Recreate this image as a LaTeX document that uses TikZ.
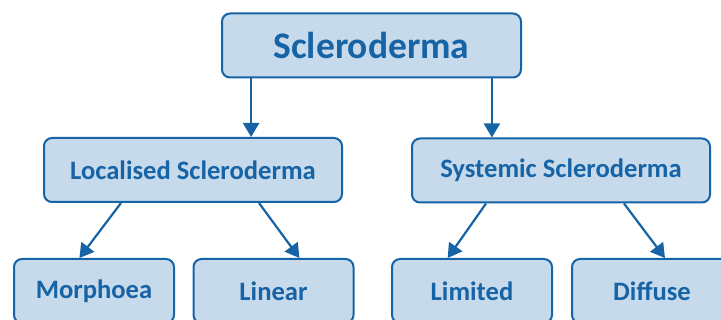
\documentclass[tikz,border=0pt]{standalone}
\usepackage{fontspec}
\setmainfont{Carlito}
\usepackage{tikz}
\usetikzlibrary{arrows.meta,calc}

\definecolor{boxfill}{RGB}{198,218,236}
\definecolor{boxline}{RGB}{22,99,165}

\tikzset{
  box/.style={draw=boxline, fill=boxfill, line width=2pt, rounded corners=8pt,
    text=boxline, font=\bfseries\fontsize{26.6}{30}\selectfont,
    inner sep=0pt, minimum height=64pt},
  arr/.style={draw=boxline, line width=2.2pt, -{Triangle[length=14pt,width=16pt]}}
}

\begin{document}
\begin{tikzpicture}
                \clip (0,0) rectangle (721pt,-320pt);

                \node[box, minimum width=299pt, font=\bfseries\fontsize{37.5}{40}\selectfont] (Scl) at (371.5pt,-45.5pt) {Scleroderma};

                \node[box, minimum width=298pt] (Loc) at (193pt,-170pt) {Localised Scleroderma};
                \node[box, minimum width=298pt] (Sys) at (561pt,-170.5pt) {Systemic Scleroderma};

                \node[box, minimum width=160pt] (Mor) at (94pt,-291pt) {Morphoea};
                \node[box, minimum width=160pt] (Lin) at (273.5pt,-291pt) {Linear};
                \node[box, minimum width=160pt] (Lim) at (472pt,-291pt) {Limited};
                \node[box, minimum width=160pt] (Dif) at (652pt,-291pt) {Diffuse};

                \coordinate (A) at ($(Scl.south west)!0.1!(Scl.south east)$);
                \coordinate (B) at ($(Scl.south west)!0.9!(Scl.south east)$);

                \draw[arr] (A) -- (A |- Loc.north);
                \draw[arr] (B) -- (B |- Sys.north);

                \draw[arr] ($(Loc.south west)!0.26!(Loc.south east)$) -- ($(Mor.north west)!0.41!(Mor.north east)$);
                \draw[arr] ($(Loc.south west)!0.72!(Loc.south east)$) -- ($(Lin.north west)!0.66!(Lin.north east)$);
                \draw[arr] ($(Sys.south west)!0.25!(Sys.south east)$) -- ($(Lim.north west)!0.35!(Lim.north east)$);
                \draw[arr] ($(Sys.south west)!0.71!(Sys.south east)$) -- ($(Dif.north west)!0.58!(Dif.north east)$);
\end{tikzpicture}
\end{document}
